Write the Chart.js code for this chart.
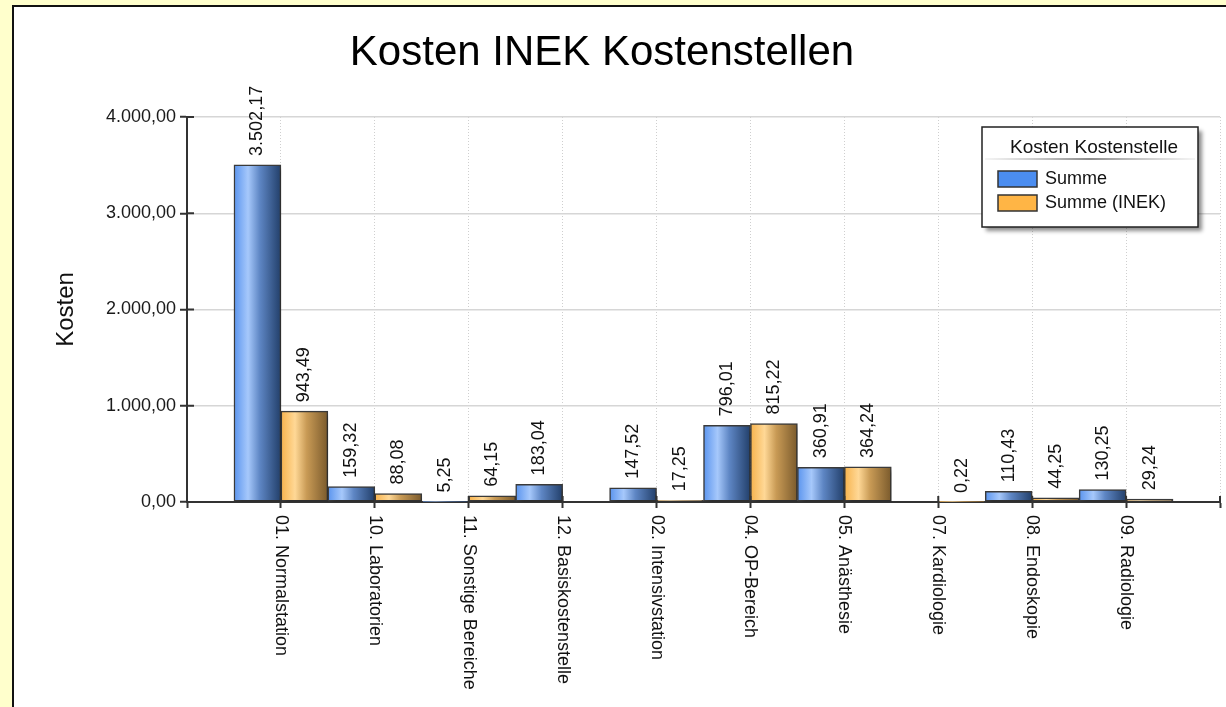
<!DOCTYPE html>
<html>
<head>
<meta charset="utf-8">
<title>Kosten INEK Kostenstellen</title>
<script src="https://cdn.jsdelivr.net/npm/chart.js@4.4.1/dist/chart.umd.min.js"></script>
<style>
  html, body { margin: 0; padding: 0; background: #ffffcc; }
  canvas { display: block; }
</style>
</head>
<body>
<canvas id="kosten_chart" width="1226" height="707"></canvas>
<script>
var chartTitle = 'Kosten INEK Kostenstellen';
var legendTitle = 'Kosten Kostenstelle';
var yTitle = 'Kosten';
var seriesNames = ['Summe', 'Summe (INEK)'];

var categories = [
  '01. Normalstation',
  '10. Laboratorien',
  '11. Sonstige Bereiche',
  '12. Basiskostenstelle',
  '02. Intensivstation',
  '04. OP-Bereich',
  '05. Anästhesie',
  '07. Kardiologie',
  '08. Endoskopie',
  '09. Radiologie'
];
var summe     = [3502.17, 159.32, 5.25, 183.04, 147.52, 796.01, 360.91, null, 110.43, 130.25];
var summeInek = [943.49, 88.08, 64.15, null, 17.25, 815.22, 364.24, 0.22, 44.25, 29.24];
var yTicks = [0, 1000, 2000, 3000, 4000];

var FONT = "'Liberation Sans', Arial, sans-serif";
var fmt = new Intl.NumberFormat('de-DE', { minimumFractionDigits: 2, maximumFractionDigits: 2 });

// half an empty slot on both ends of the x axis, like the original
var xLabels = [''].concat(categories, ['']);
function padded(arr) { return [null].concat(arr, [null]); }

var blueStops = [[0, '#5a94ee'], [0.3, '#a6c8fb'], [0.55, '#5e86c4'], [1, '#223f6a']];
var orangeStops = [[0, '#f6b24c'], [0.3, '#ffd896'], [0.55, '#c89a55'], [1, '#7a5a2c']];
var legendColors = ['#4b8df0', '#ffb545'];

// horizontal gradient per bar
function barFill(stops) {
  return function(c) {
    var chart = c.chart;
    var xs = chart.scales.x;
    if (!xs || c.dataIndex == null) return stops[1][1];
    var center = xs.getPixelForValue(c.dataIndex);
    var half = (xs.getPixelForValue(1) - xs.getPixelForValue(0)) / 2;
    if (!isFinite(center) || !isFinite(half) || half <= 0) return stops[1][1];
    var left = c.datasetIndex === 0 ? center - half : center;
    var g = chart.ctx.createLinearGradient(left, 0, left + half, 0);
    stops.forEach(function(s) { g.addColorStop(s[0], s[1]); });
    return g;
  };
}

var framePlugin = {
  id: 'frame',
  beforeDraw: function(chart) {
    var ctx = chart.ctx;
    ctx.save();
    ctx.fillStyle = '#ffffcc';
    ctx.fillRect(0, 0, chart.width, chart.height);
    ctx.fillStyle = '#ffffff';
    ctx.fillRect(14, 7, chart.width - 14, chart.height - 7);
    ctx.fillStyle = '#111111';
    ctx.fillRect(12, 5, chart.width - 12, 2);
    ctx.fillRect(12, 5, 2, chart.height - 5);
    // title
    ctx.fillStyle = '#000000';
    ctx.font = '42px ' + FONT;
    ctx.textAlign = 'center';
    ctx.textBaseline = 'alphabetic';
    ctx.fillText(chartTitle, 602, 65);
    ctx.restore();
  },
  beforeDatasetDraw: function(chart) {
    var ctx = chart.ctx;
    ctx.save();
    ctx.shadowColor = 'rgba(0,0,0,0.22)';
    ctx.shadowOffsetX = 4;
    ctx.shadowOffsetY = 4;
    ctx.shadowBlur = 4;
  },
  afterDatasetDraw: function(chart) {
    chart.ctx.restore();
  },
  afterDatasetsDraw: function(chart) {
    var ctx = chart.ctx;
    ctx.save();
    ctx.fillStyle = '#111111';
    ctx.font = '18px ' + FONT;
    ctx.textAlign = 'left';
    ctx.textBaseline = 'middle';
    chart.data.datasets.forEach(function(ds, di) {
      var meta = chart.getDatasetMeta(di);
      meta.data.forEach(function(el, i) {
        var v = ds.data[i];
        if (v == null) return;
        ctx.save();
        ctx.translate(el.x, el.y - 9);
        ctx.rotate(-Math.PI / 2);
        ctx.fillText(fmt.format(v), 0, 0);
        ctx.restore();
      });
    });
    ctx.restore();
  },
  afterDraw: function(chart) {
    var ctx = chart.ctx;
    var xs = chart.scales.x, ys = chart.scales.y;
    ctx.save();
    // tick marks crossing into the plot
    ctx.strokeStyle = '#333333';
    ctx.lineWidth = 2;
    ctx.beginPath();
    ys.ticks.forEach(function(t) {
      var y = ys.getPixelForValue(t.value);
      ctx.moveTo(xs.left, y);
      ctx.lineTo(xs.left + 7, y);
    });
    for (var i = 1; i <= categories.length + 1; i++) {
      var x = xs.getPixelForValue(i);
      ctx.moveTo(x, ys.bottom);
      ctx.lineTo(x, ys.bottom - 6);
    }
    ctx.stroke();

    // category labels, rotated clockwise
    ctx.fillStyle = '#111111';
    ctx.font = '18px ' + FONT;
    ctx.textAlign = 'left';
    ctx.textBaseline = 'middle';
    categories.forEach(function(c, k) {
      var x = xs.getPixelForValue(k + 1);
      ctx.save();
      ctx.translate(x, ys.bottom + 13);
      ctx.rotate(Math.PI / 2);
      ctx.fillText(c, 0, 0);
      ctx.restore();
    });

    // legend box
    var lx = 982, ly = 127, lw = 216, lh = 100;
    ctx.save();
    ctx.shadowColor = 'rgba(0,0,0,0.45)';
    ctx.shadowOffsetX = 4;
    ctx.shadowOffsetY = 4;
    ctx.shadowBlur = 4;
    ctx.fillStyle = '#ffffff';
    ctx.fillRect(lx, ly, lw, lh);
    ctx.restore();
    ctx.strokeStyle = '#222222';
    ctx.lineWidth = 1.5;
    ctx.strokeRect(lx, ly, lw, lh);
    ctx.fillStyle = '#111111';
    ctx.textAlign = 'center';
    ctx.textBaseline = 'alphabetic';
    ctx.font = '19px ' + FONT;
    ctx.fillText(legendTitle, lx + lw / 2 + 4, ly + 26);
    ctx.font = '18px ' + FONT;
    var sep = ctx.createLinearGradient(lx + 3, 0, lx + lw - 3, 0);
    sep.addColorStop(0, 'rgba(120,120,120,0.1)');
    sep.addColorStop(0.5, 'rgba(60,60,60,0.8)');
    sep.addColorStop(1, 'rgba(120,120,120,0.1)');
    ctx.strokeStyle = sep;
    ctx.lineWidth = 1.5;
    ctx.beginPath();
    ctx.moveTo(lx + 3, ly + 32);
    ctx.lineTo(lx + lw - 3, ly + 32);
    ctx.stroke();
    ctx.textAlign = 'left';
    ctx.textBaseline = 'middle';
    chart.data.datasets.forEach(function(ds, di) {
      var by = ly + 44 + di * 24;
      ctx.fillStyle = legendColors[di];
      ctx.fillRect(lx + 16, by, 39, 16);
      ctx.strokeStyle = '#333333';
      ctx.lineWidth = 1.5;
      ctx.strokeRect(lx + 16, by, 39, 16);
      ctx.fillStyle = '#111111';
      ctx.fillText(ds.label, lx + 63, by + 8);
    });
    ctx.restore();
  }
};

var ctx = document.getElementById('kosten_chart');
var myChart = new Chart(ctx, {
  type: 'bar',
  data: {
    labels: xLabels,
    datasets: [{
        label: seriesNames[0],
        data: padded(summe),
        backgroundColor: barFill(blueStops),
        borderColor: '#3a3a3a',
        borderWidth: 1.5,
        borderSkipped: false,
        categoryPercentage: 1,
        barPercentage: 1
      }, {
        label: seriesNames[1],
        data: padded(summeInek),
        backgroundColor: barFill(orangeStops),
        borderColor: '#3a3a3a',
        borderWidth: 1.5,
        borderSkipped: false,
        categoryPercentage: 1,
        barPercentage: 1
      }
    ]
  },
  options: {
    responsive: false,
    animation: false,
    devicePixelRatio: 1,
    layout: { padding: { left: 14, top: 117, right: 6, bottom: 0 } },
    plugins: {
      legend: { display: false },
      title: { display: false },
      tooltip: { enabled: false }
    },
    scales: {
      x: {
        type: 'category',
        offset: false,
        ticks: { display: false },
        grid: { offset: false, color: '#cfcfcf', lineWidth: 1, tickLength: 6, tickColor: '#333333', tickWidth: 2 },
        border: { color: '#333333', width: 2, dash: [1, 2] },
        afterFit: function(s) { s.height = 707 - 502; }
      },
      y: {
        min: 0,
        max: 4000,
        afterBuildTicks: function(s) { s.ticks = yTicks.map(function(v) { return { value: v }; }); },
        ticks: {
          color: '#1a1a1a',
          font: { family: FONT, size: 18 },
          padding: 4,
          callback: function(v) { return fmt.format(v); }
        },
        grid: { color: '#d6d6d6', lineWidth: 1.5, tickLength: 7, tickColor: '#333333', tickWidth: 2 },
        border: { color: '#333333', width: 2 },
        title: {
          display: true,
          text: yTitle,
          color: '#111111',
          font: { family: FONT, size: 24 },
          padding: { top: 38, bottom: 0 }
        },
        afterFit: function(s) { s.width = 187 - 14; }
      }
    }
  },
  plugins: [framePlugin]
});
// second pass so the gradients see the laid out scale
myChart.update('none');
</script>
</body>
</html>
